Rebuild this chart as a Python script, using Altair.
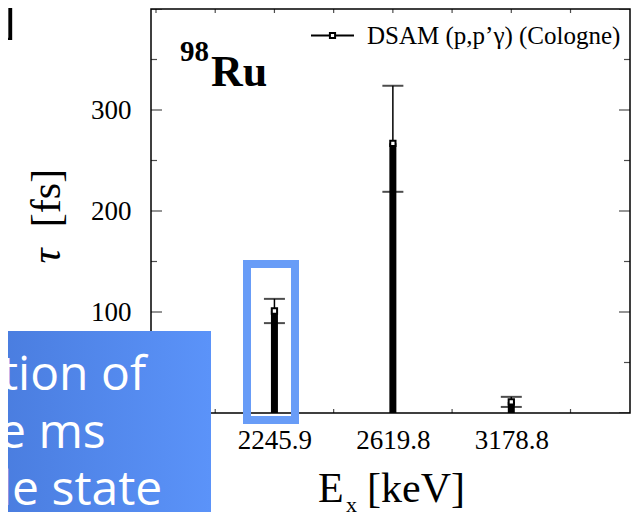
import altair as alt
import pandas as pd

# ---- data ----
energies = ["2245.9", "2619.8", "3178.8"]        # E_x [keV]
tau = [101, 267, 11]                              # lifetime [fs]
tau_hi = [113, 324, 16]                           # upper error end
tau_lo = [89, 219, 6]                             # lower error end
series_name = "DSAM (p,p’γ) (Cologne)"
y_major = [0, 100, 200, 300, 400]
y_minor = [50, 150, 250, 350]
y_labels = [0, 100, 200, 300]
x_slots = list(range(0, 8))
nucleus_mass = "98"
nucleus_symbol = "Ru"
overlay_lines = ["tion of", "e ms", "le state"]

W, H = 479, 404
SERIF = "Liberation Serif"
SANS = "Open Sans"

pos = [2 * (i + 1) for i in range(len(energies))]
df = pd.DataFrame({"pos": pos, "energy": energies, "tau": tau,
                   "hi": tau_hi, "lo": tau_lo,
                   "series": [series_name] * len(energies)})

label_expr = " : ".join(f"datum.value == {p} ? '{e}'" for p, e in zip(pos, energies)) + " : ''"

xs = alt.Scale(domain=[0, 7.92], nice=False, zero=False)
ys = alt.Scale(domain=[0, 400], nice=False)

x_axis = alt.Axis(values=pos, labelExpr=label_expr, ticks=False, domain=False,
                  grid=False, labelPadding=14, labelFontSize=27, labelFont=SERIF,
                  labelColor="black", title=None, labelFlush=False,
                  labelOverlap=False, tickSize=0)
y_axis = alt.Axis(values=y_labels, ticks=False, domain=False, grid=False,
                  labelPadding=20, labelFontSize=27, labelFont=SERIF,
                  labelColor="black", title=None, labelOverlap=False, tickSize=0)

base = alt.Chart(df)

bars = base.mark_bar(size=7, color="black").encode(
    x=alt.X("pos:Q", scale=xs, axis=x_axis),
    y=alt.Y("tau:Q", scale=ys, axis=y_axis),
)

err = base.mark_rule(color="black", strokeWidth=1.5).encode(
    x=alt.X("pos:Q", scale=xs, axis=x_axis),
    y=alt.Y("lo:Q", scale=ys, axis=y_axis), y2="hi:Q")
cap_hi = base.mark_tick(orient="horizontal", color="black", size=21, thickness=2).encode(
    x=alt.X("pos:Q", scale=xs, axis=x_axis), y=alt.Y("hi:Q", scale=ys, axis=y_axis))
cap_lo = base.mark_tick(orient="horizontal", color="black", size=21, thickness=2).encode(
    x=alt.X("pos:Q", scale=xs, axis=x_axis), y=alt.Y("lo:Q", scale=ys, axis=y_axis))

pts = base.mark_square(size=28, fill="white", strokeWidth=2, opacity=1).encode(
    x=alt.X("pos:Q", scale=xs, axis=x_axis),
    y=alt.Y("tau:Q", scale=ys, axis=y_axis),
    stroke=alt.Stroke("series:N", scale=alt.Scale(range=["black"]),
                      legend=alt.Legend(title=None, orient="none", legendX=159, legendY=4,
                                        symbolType="M-1,0H-0.12M0.12,0H1M-0.12,-0.12H0.12V0.12H-0.12Z",
                                        symbolSize=1849, symbolStrokeWidth=2,
                                        symbolFillColor="white", symbolStrokeColor="black",
                                        labelFont=SERIF, labelFontSize=25, labelColor="black",
                                        labelOffset=12, padding=0, labelLimit=0)),
)


def ytick(vals, length, xpix):
    return alt.Chart(pd.DataFrame({"v": vals})).mark_tick(
        orient="horizontal", color="black", thickness=1.2, size=2 * length, clip=True
    ).encode(x=alt.value(xpix), y=alt.Y("v:Q", scale=ys, axis=y_axis))


def xtick(vals, length, ypix):
    return alt.Chart(pd.DataFrame({"v": vals})).mark_tick(
        orient="vertical", color="black", thickness=1.2, size=2 * length, clip=True
    ).encode(x=alt.X("v:Q", scale=xs, axis=x_axis), y=alt.value(ypix))


def txt(text, x, y, size, font=SERIF, color="black", align="left",
        baseline="alphabetic", angle=0, weight="normal", style="normal"):
    return alt.Chart(pd.DataFrame({"t": [text]})).mark_text(
        font=font, fontSize=size, color=color, align=align, baseline=baseline,
        angle=angle, fontWeight=weight, fontStyle=style
    ).encode(text="t:N", x=alt.value(x), y=alt.value(y))


ticks = [
    ytick(y_major, 11, 0), ytick(y_minor, 6, 0),
    ytick(y_major, 11, W), ytick(y_minor, 6, W),
    xtick(x_slots, 4, 0), xtick(x_slots, 4, H),
]

annot = [
    txt(nucleus_mass, 29, 52, 29, weight="bold"),
    txt(nucleus_symbol, 60, 77, 44, weight="bold"),
    txt("E", 167, 493, 42),
    txt("x", 195, 503, 22),
    txt("[keV]", 216, 493, 42),
    txt("τ", -91, 247, 42, angle=270, align="center", style="italic"),
    txt("[fs]", -91, 189, 42, angle=270, align="center"),
    txt("]", -135, 24, 50, align="right"),
]

highlight = alt.Chart(pd.DataFrame({"a": [0]})).mark_rect(
    filled=False, stroke="#689cf7", strokeWidth=8
).encode(x=alt.value(96), x2=alt.value(144), y=alt.value(255), y2=alt.value(411))

overlay = alt.Chart(pd.DataFrame({"a": [0]})).mark_rect(
    fill=alt.Gradient(gradient="linear",
                      stops=[alt.GradientStop(color="#4a7ddf", offset=0),
                             alt.GradientStop(color="#5b93f9", offset=1)],
                      x1=0, x2=1, y1=0, y2=0)
).encode(x=alt.value(-151), x2=alt.value(60), y=alt.value(322), y2=alt.value(503))

overlay_text = [
    txt(overlay_lines[0], -150, 381, 48, font=SANS, color="white"),
    txt(overlay_lines[1], -152, 439, 48, font=SANS, color="white"),
    txt(overlay_lines[2], -151, 496, 48, font=SANS, color="white"),
]

chart = alt.layer(
    *ticks, bars, err, cap_hi, cap_lo, pts, *annot, highlight, overlay, *overlay_text
).properties(
    width=W, height=H,
    padding={"left": 143, "top": 1, "right": 1, "bottom": 99},
    autosize=alt.AutoSizeParams(type="none"),
    background="white",
).configure_view(stroke="black", strokeWidth=1.5)

chart.save("out.html", embed_options={"renderer": "svg", "actions": False})
